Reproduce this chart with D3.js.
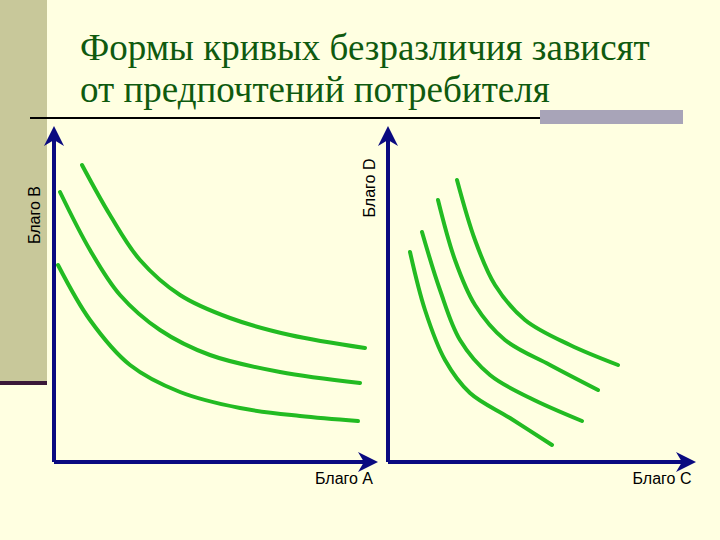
<!DOCTYPE html><html><head><meta charset="utf-8"><script src="https://cdn.jsdelivr.net/npm/d3@7"></script>
<style>body{margin:0;background:#FFFFE1}</style></head><body><script>
const titleLines=["Формы кривых безразличия зависят","от предпочтений потребителя"];
const axisLabels={left:["Благо А","Благо В"],right:["Благо С","Благо D"]};
const leftCurves=[
[[28,297],[56,247],[86,202],[126,167],[176,144],[236,127],[311,114]],
[[6,270],[36,212],[66,167],[106,132],[156,107],[226,90],[306,79]],
[[4,197],[36,142],[76,97],[126,70],[186,54],[246,46],[304,41]]];
const rightCurves=[
[[69,282],[87,222],[107,177],[137,142],[182,117],[230,97]],
[[50,262],[67,202],[87,157],[117,122],[162,97],[210,72]],
[[34,230],[52,172],[72,122],[102,87],[142,64],[194,41]],
[[22,210],[37,152],[57,102],[82,69],[122,44],[164,17]]];
const svg=d3.select("body").append("svg").attr("width",720).attr("height",540);
svg.append("rect").attr("width",720).attr("height",540).attr("fill","#FFFFE1");
svg.append("rect").attr("x",0).attr("y",0).attr("width",47).attr("height",382).attr("fill","#C8C89A");
svg.append("rect").attr("x",0).attr("y",381).attr("width",47).attr("height",4).attr("fill","#3a1838");
svg.append("line").attr("x1",30).attr("x2",683).attr("y1",118).attr("y2",118).attr("stroke","#000").attr("stroke-width",2);
svg.append("rect").attr("x",540).attr("y",110).attr("width",143).attr("height",14).attr("fill","#A8A4B8");
titleLines.forEach((t,i)=>svg.append("text").attr("x",80).attr("y",60+i*42).attr("font-family","Liberation Serif").attr("font-size",37).attr("fill","#0f5a0f").text(t));
svg.append("defs").append("marker").attr("id","ar").attr("viewBox","0 0 10 10").attr("refX",8).attr("refY",5).attr("markerWidth",5).attr("markerHeight",5).attr("orient","auto-start-reverse")
 .append("path").attr("d","M0,0L10,5L0,10L3,5Z").attr("fill","#0a0a80");
function panel(x0,x1,curves,labs,domX){
 const x=d3.scaleLinear().domain([0,domX]).range([x0,x0+domX]);
 const y=d3.scaleLinear().domain([0,332]).range([462,130]);
 svg.append("path").attr("d",`M${x0},${y(0)}L${x1},${y(0)}`).attr("stroke","#0a0a80").attr("stroke-width",4).attr("fill","none").attr("marker-end","url(#ar)");
 svg.append("path").attr("d",`M${x0},${y(0)}L${x0},${y(332)}`).attr("stroke","#0a0a80").attr("stroke-width",4).attr("fill","none").attr("marker-end","url(#ar)");
 const line=d3.line().x(d=>x(d[0])).y(d=>y(d[1])).curve(d3.curveCatmullRom.alpha(0.5));
 curves.forEach(c=>svg.append("path").attr("d",line(c)).attr("stroke","#22BB22").attr("stroke-width",4).attr("fill","none").attr("stroke-linecap","round"));
 svg.append("text").attr("x",x1-30).attr("y",484).attr("text-anchor","middle").attr("font-family","Liberation Sans").attr("font-size",16).text(labs[0]);
 return {x,y};
}
panel(54,374,leftCurves,axisLabels.left,320);
panel(388,692,rightCurves,axisLabels.right,310);
svg.append("text").attr("transform","translate(40,215) rotate(-90)").attr("text-anchor","middle").attr("font-family","Liberation Sans").attr("font-size",16).text(axisLabels.left[1]);
svg.append("text").attr("transform","translate(375,188) rotate(-90)").attr("text-anchor","middle").attr("font-family","Liberation Sans").attr("font-size",16).text(axisLabels.right[1]);
</script></body></html>
